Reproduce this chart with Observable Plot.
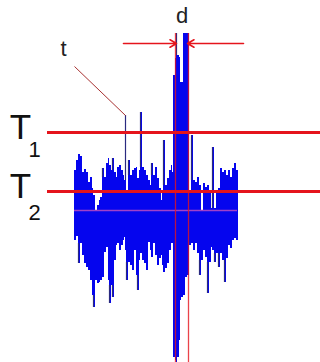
<!DOCTYPE html>
<html>
<head>
<meta charset="utf-8">
<script src="https://cdn.jsdelivr.net/npm/d3@7"></script>
<script src="https://cdn.jsdelivr.net/npm/@observablehq/plot@0.6"></script>
<style>
html,body{margin:0;padding:0;background:#fff;}
svg{display:block;overflow:visible;}
</style>
</head>
<body>
<div id="chart"></div>
<script>
// sample time (ms) of each column of the recorded signal
const sampleTime = [0,2,4,6,8,10,12,14,16,18,19,21,23,25,26,28,30,32,34,35,37,38,40,42,43,45,47,49,50,51,52,54,56,58,60,62,63,65,66,68,70,72,74,76,77,79,81,83,85,87,88,89,91,93,95,97,98,99,101,102,103,105,106,107,109,111,113,115,117,119,121,123,125,127,129,131,133,135,137,138,140,142,144,146,148,150,152,154,156,158,160,162,163,164];
// upper value of each column (µV)
const upperValue = [40,50,56,54,38,41,38,28,33,22,15,0,5,10,13,42,33,47,52,45,40,52,38,33,43,45,40,35,30,95,20,50,35,40,42,43,32,40,98,43,40,35,30,25,47,35,43,32,22,10,20,70,25,32,40,45,38,135,152,177,155,153,128,128,177,177,177,20,75,30,28,33,25,0,27,23,25,20,2,63,2,20,22,42,38,40,35,40,33,42,47,40,40,40];
// lower value of each column (µV)
const lowerValue = [-30,-26,-53,-33,-45,-53,-57,-60,-70,-85,-97,-70,-73,-72,-70,-67,-42,-37,-70,-93,-75,-87,-50,-35,-33,-40,-35,-30,-27,-40,-70,-52,-55,-60,-40,-65,-80,-50,-43,-50,-53,-60,-32,-40,-47,-33,-45,-55,-48,-45,-55,-62,-58,-53,-40,-33,-33,-147,-150,-152,-147,-130,-90,-87,-85,-67,-65,-35,-33,-40,-33,-43,-65,-50,-40,-47,-83,-52,-37,-40,-52,-43,-57,-43,-50,-72,-48,-35,-38,-30,-28,-30,-30,-30];

// thresholds and annotations (µV / ms)
const thresholdNames = ["1", "2"];
const thresholdValues = [78, 19];
const meanValue = 0;
const spikeEdges = [101, 114];   // d: width of the large discharge (ms)

const samples = sampleTime.map((t, i) => ({t, hi: upperValue[i], lo: lowerValue[i]}));
// tips of the columns that stick out beyond their neighbours
const tips = [];
samples.forEach((d, i) => {
  const a = samples[i - 1], b = samples[i + 1];
  if (!a || !b) return;
  const nh = Math.max(a.hi, b.hi), nl = Math.min(a.lo, b.lo);
  if (d.hi > nh + 8) tips.push({t: d.t, y1: nh, y2: d.hi});
  if (d.lo < nl - 8) tips.push({t: d.t, y1: nl, y2: d.lo});
});
const thresholds = thresholdNames.map((n, i) => ({sub: n, value: thresholdValues[i]}));

const red = "#e5141c";
const font = "Liberation Sans";
const chart = Plot.plot({
  width: 320,
  height: 362,
  margin: 0,
  x: {domain: [-74, 246], axis: null},
  y: {domain: [-152, 210], axis: null},
  marks: [
    Plot.areaY(samples, {x: "t", y1: "lo", y2: "hi", curve: "step-after", fill: "#0505ee"}),
    Plot.ruleX(tips, {x: "t", y1: "y1", y2: "y2", stroke: "#2a2a80", strokeWidth: 1.2}),
    // mean line
    Plot.ruleY([meanValue], {x1: 0, x2: 163, stroke: "#a040c8", strokeWidth: 1.5}),
    // thresholds
    Plot.ruleY(thresholds, {y: "value", x1: -27, x2: 246, stroke: red, strokeWidth: 3}),
    Plot.text(thresholds, {x: -54, y: "value", text: () => "T", dy: -5, fontSize: 35, fill: "#111", fontFamily: font}),
    Plot.text(thresholds.filter(d => d.sub === "1"), {x: -40, y: "value", text: "sub", dy: 17, fontSize: 22, fill: "#111", fontFamily: font}),
    Plot.text(thresholds.filter(d => d.sub === "2"), {x: -40, y: "value", text: "sub", dy: 21, fontSize: 22, fill: "#111", fontFamily: font}),
    // d markers
    Plot.ruleX(spikeEdges, {y1: -152, y2: 177, stroke: red, strokeWidth: 1.3, strokeOpacity: 0.8}),
    Plot.arrow([{x1: 49, x2: spikeEdges[0] + 1}, {x1: 169, x2: spikeEdges[1] - 1}], {x1: "x1", x2: "x2", y1: 167, y2: 167, stroke: red, strokeWidth: 1.6, headLength: 7, bend: 0}),
    Plot.text(["d"], {x: (spikeEdges[0] + spikeEdges[1]) / 2, y: 195, text: d => d, fontSize: 22, fill: "#222", fontFamily: font}),
    // t marker
    Plot.link([{x1: 0, y1: 144, x2: 51, y2: 95}], {x1: "x1", y1: "y1", x2: "x2", y2: "y2", stroke: "#a83232", strokeWidth: 1}),
    Plot.text(["t"], {x: -11, y: 162, text: d => d, fontSize: 22, fill: "#222", fontFamily: font})
  ]
});
document.getElementById("chart").appendChild(chart);
</script>
</body>
</html>
